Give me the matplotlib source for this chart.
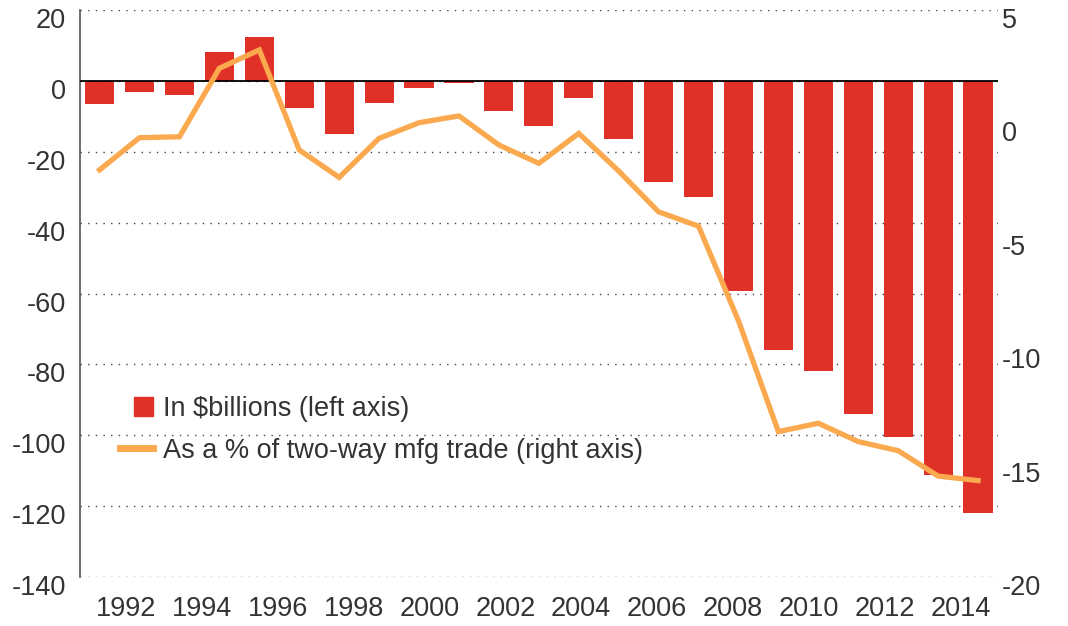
import numpy as np
import matplotlib
matplotlib.use('Agg')
import matplotlib.pyplot as plt
import matplotlib.patches as mpatches
from matplotlib.lines import Line2D
from matplotlib.legend_handler import HandlerPatch
from matplotlib.transforms import ScaledTranslation

# Data
years = list(range(1992, 2015))
deficit_bn = [-6.5, -3, -4, 8.2, 12.5, -7.6, -14.9, -6.2, -2, -0.6, -8.5, -12.7,
              -4.7, -16.3, -28.5, -32.9, -59.2, -76, -81.9, -93.9, -100.6, -111.3, -122]
share_pct = [-2.05, -0.63, -0.59, 2.43, 3.24, -1.17, -2.38, -0.66, 0.03, 0.33, -0.95,
             -1.76, -0.44, -2.1, -3.9, -4.53, -8.7, -13.59, -13.22, -14.03, -14.43,
             -15.55, -15.75]
tick_years = [str(y) for y in range(1992, 2015, 2)]
left_ticks = list(range(20, -141, -20))
right_ticks = [5, 0, -5, -10, -15, -20]

bar_color = '#e03129'
line_color = '#fba94f'
text_color = '#333333'

plt.rcParams['font.family'] = ['Liberation Sans', 'DejaVu Sans']
fs = 19.5

fig = plt.figure(figsize=(10.68, 6.26), dpi=100)
ax = fig.add_axes([80/1068, 1 - 577/626, 918/1068, 567/626])
ax2 = ax.twinx()

x = np.arange(len(years))
ax.bar(x, deficit_bn, width=0.73, color=bar_color, zorder=2)
ax.axhline(0, color='black', lw=1.3, zorder=3)

ax2.plot(x, share_pct, color=line_color, lw=3.8, solid_joinstyle='miter', zorder=4)

ax.set_xlim(-0.49, 22.5)
ax.set_ylim(-140, 20)
ax2.set_ylim(-20, 5)

ax.set_yticks(left_ticks)
ax.set_yticklabels([str(v) for v in left_ticks])
ax2.set_yticks(right_ticks)
ax2.set_yticklabels([str(v) for v in right_ticks])
ax.set_xticks(np.linspace(0.66, 21.56, len(tick_years)))
ax.set_xticklabels(tick_years)

ax.grid(axis='y', color='#444444', lw=1.0, linestyle=(0, (1, 4.5)), zorder=1)

for a in (ax, ax2):
    for s in a.spines.values():
        s.set_visible(False)
ax.spines['left'].set_visible(True)
ax.spines['left'].set_color('#555555')
ax.spines['left'].set_linewidth(1.2)

ax.tick_params(axis='y', length=0, pad=10, labelsize=fs, labelcolor=text_color)
ax.tick_params(axis='x', length=0, pad=14, labelsize=fs, labelcolor=text_color)
ax2.tick_params(axis='y', length=0, pad=3, labelsize=fs, labelcolor=text_color)

# labels sit a little below their gridlines in the original
shift = ScaledTranslation(0, -8/100, fig.dpi_scale_trans)
for lab in ax.get_yticklabels() + ax2.get_yticklabels():
    lab.set_transform(lab.get_transform() + shift)


# small square swatch pushed to the right end of the handle box
def square_patch(legend, orig_handle, xdescent, ydescent, width, height, fontsize):
    s = 13.7
    return mpatches.Rectangle((-xdescent + width - s, -ydescent + (height - s) / 2), s, s)


bar_handle = mpatches.Patch(color=bar_color)
line_handle = Line2D([], [], color=line_color, lw=5)
labels = ['In $billions (left axis)', 'As a % of two-way mfg trade (right axis)']
ax2.legend([bar_handle, line_handle], labels, loc='upper left',
           bbox_to_anchor=(120/1068, 1 - 396/626), bbox_transform=fig.transFigure,
           handler_map={bar_handle: HandlerPatch(patch_func=square_patch)},
           frameon=False, fontsize=fs, handlelength=1.22, handletextpad=0.37,
           labelspacing=0.58, borderpad=0, borderaxespad=0, labelcolor=text_color)

fig.savefig('out.png', dpi=100, facecolor='w')
